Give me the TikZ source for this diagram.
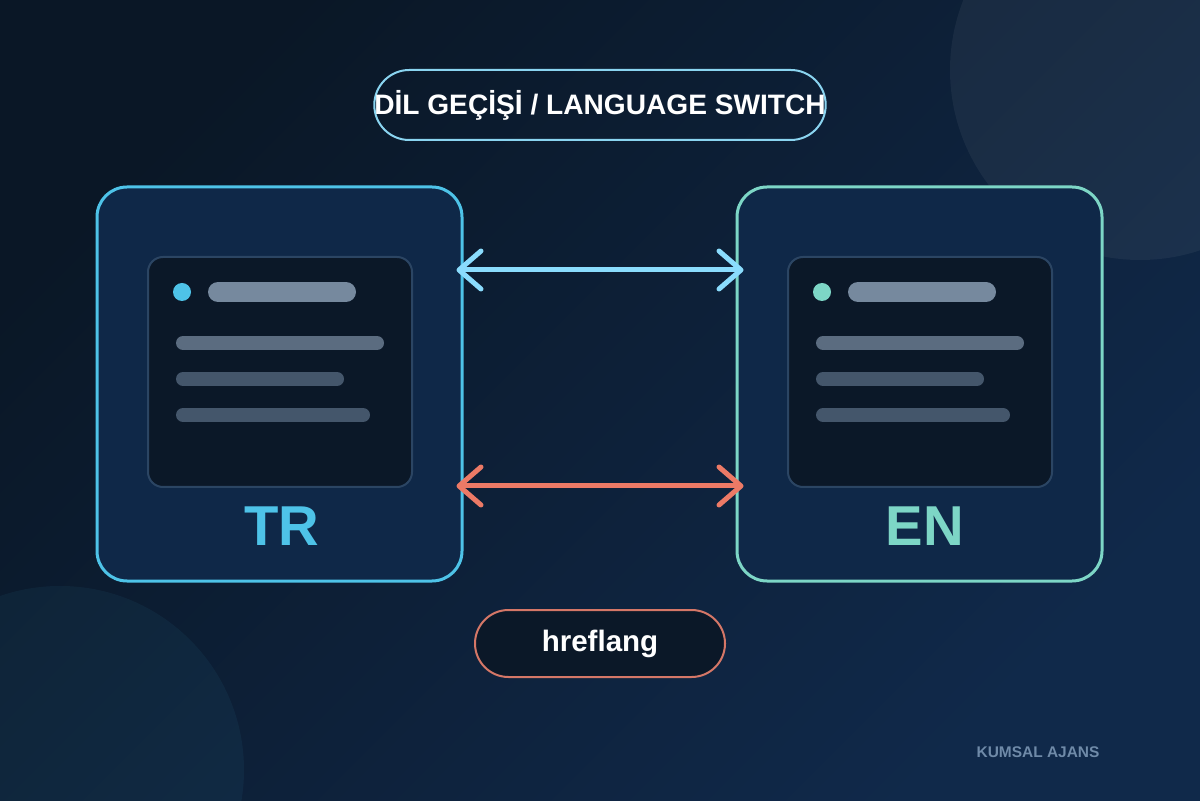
\documentclass[tikz,border=0pt]{standalone}
\usepackage{fontspec}
\setmainfont{Liberation Sans}
\usetikzlibrary{arrows.meta}
\definecolor{bgtop}{HTML}{0A1726}
\definecolor{bgbot}{HTML}{10294A}
\definecolor{cardfill}{HTML}{0F2848}
\definecolor{screenfill}{HTML}{0B1828}
\definecolor{screenline}{HTML}{2B4563}
\definecolor{trcol}{HTML}{4EC3E8}
\definecolor{encol}{HTML}{7DD6C6}
\definecolor{switchcol}{HTML}{8ADCFD}
\definecolor{hrefcol}{HTML}{EC7A66}
\definecolor{hrefpill}{HTML}{D57767}
\definecolor{pillline}{HTML}{8AD4F0}
\definecolor{barA}{HTML}{76899E}
\definecolor{barB}{HTML}{5B6C80}
\definecolor{barC}{HTML}{44566B}
\definecolor{markcol}{HTML}{6F8AA8}
\begin{document}
\begin{tikzpicture}[
  card/.style={draw, line width=0.075cm, fill=cardfill, rounded corners=0.75cm, minimum width=9.125cm, minimum height=9.85cm},
  screen/.style={draw=screenline, line width=0.05cm, fill=screenfill, rounded corners=0.375cm, minimum width=6.6cm, minimum height=5.75cm},
  pill/.style={draw, line width=0.05cm, inner sep=0pt, text=white},
  langlabel/.style={font=\fontsize{40}{40}\selectfont\bfseries},
  bar/.style={line cap=round},
  link/.style={line width=0.125cm, {Straight Barb[length=0.55cm,width=0.95cm,round]}-{Straight Barb[length=0.55cm,width=0.95cm,round]}}
]
\useasboundingbox (0,0) rectangle (30,20);
\begin{scope}
\clip (0,0) rectangle (30,20);
\shade[top color=bgtop, bottom color=bgbot, shading angle=45] (0,0) rectangle (30,20);
\fill[white, opacity=0.05] (28.5,18.25) circle (4.75);
\fill[trcol, opacity=0.06] (1.5,0.75) circle (4.6);
\end{scope}

\node[pill, draw=pillline, minimum width=11.25cm, minimum height=1.75cm, rounded corners=0.875cm, font=\fontsize{20}{20}\selectfont\bfseries] (title) at (15,17.375) {DİL GEÇİŞİ / LANGUAGE SWITCH};

\node[card, draw=trcol] (tr) at (6.9875,10.4) {};
\node[card, draw=encol] (en) at (22.9875,10.4) {};
\node[screen] (trs) at (7,10.7) {};
\node[screen] (ens) at (23,10.7) {};
\foreach \s/\c in {trs/trcol, ens/encol} {
  \begin{scope}[shift={(\s.center)}]
    \fill[\c] (-2.45,2) circle (0.225);
    \draw[bar, barA, line width=0.5cm] (-1.55,2) -- (1.65,2);
    \draw[bar, barB, line width=0.35cm] (-2.425,0.725) -- (2.425,0.725);
    \draw[bar, barC, line width=0.35cm] (-2.425,-0.175) -- (1.425,-0.175);
    \draw[bar, barC, line width=0.35cm] (-2.425,-1.075) -- (2.075,-1.075);
  \end{scope}
}
\node[langlabel, text=trcol] (trl) at (7.05,6.85) {TR};
\node[langlabel, text=encol] (enl) at (23.125,6.85) {EN};

\draw[link, switchcol] ([xshift=-0.175cm, yshift=2.85cm]tr.east) -- ([xshift=0.2cm, yshift=2.85cm]en.west);
\draw[link, hrefcol] ([xshift=-0.175cm, yshift=-2.55cm]tr.east) -- ([xshift=0.2cm, yshift=-2.55cm]en.west);

\node[pill, draw=hrefpill, fill=screenfill, minimum width=6.25cm, minimum height=1.675cm, rounded corners=0.8375cm, font=\fontsize{21}{21}\selectfont\bfseries] (href) at (15,3.9125) {hreflang};
\node[text=markcol, font=\fontsize{11}{11}\selectfont\bfseries] (mark) at (25.95,1.2) {KUMSAL AJANS};
\end{tikzpicture}
\end{document}
